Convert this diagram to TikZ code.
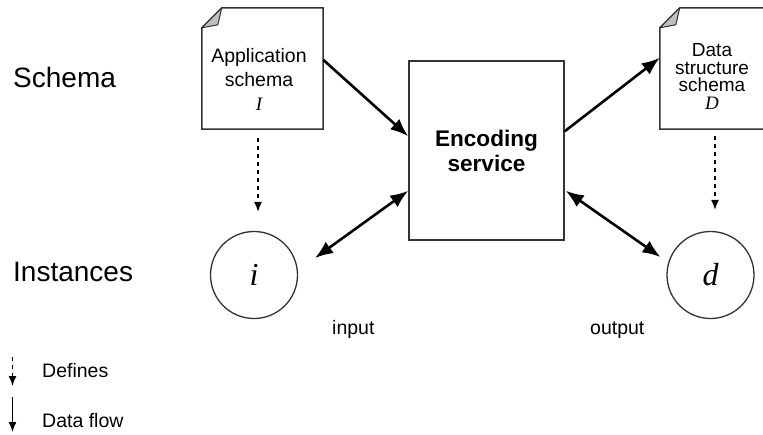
\documentclass[tikz,border=0pt]{standalone}
\usepackage{fontspec}
\setmainfont{Liberation Sans}
\newfontfamily\serifit{Liberation Serif}
\usetikzlibrary{arrows.meta,calc}
\begin{document}
\begin{tikzpicture}[x=1pt,y=-1pt,
  boxline/.style={draw=black!80, line width=1.5pt},
  flow/.style={line width=2.6pt, -{Latex[length=18pt,width=14pt]}},
  flowtwo/.style={line width=2.6pt, {Latex[length=18pt,width=14pt]}-{Latex[length=18pt,width=14pt]}},
  defarrow/.style={dash pattern=on 4pt off 4pt, line width=1.3pt, -{Latex[length=10pt,width=8pt]}},
  legflow/.style={line width=1.4pt, -{Latex[length=10pt,width=8pt]}},
  docholder/.style={minimum width=121pt, minimum height=121pt, inner sep=0pt},
  doctext/.style={align=center, inner sep=0pt},
  inst/.style={circle, draw=black!80, line width=1.3pt, minimum size=87pt, inner sep=0pt,
    font=\fontsize{32}{36}\selectfont\serifit\itshape},
  biglabel/.style={anchor=base west, inner sep=0pt, font=\fontsize{28}{32}\selectfont},
  smalllabel/.style={anchor=base west, inner sep=0pt, font=\fontsize{19.5}{22}\selectfont},
]
\useasboundingbox (0,0) rectangle (763,434);
\clip (0,0) rectangle (763,434);

% documents
\node[docholder] (docI) at (262.5,68.5) {};
\node[docholder] (docD) at (720.5,68.5) {};
\foreach \d in {docI,docD}{
  \draw[boxline, line join=miter] (\d.north east) -- (\d.south east) -- (\d.south west)
     -- ($(\d.north west)+(0,20)$) -- ($(\d.north west)+(20,0)$) -- cycle;
  \filldraw[fill=black!25, draw=black!80, line width=1pt, line join=round]
     ($(\d.north west)+(0,20)$) -- ($(\d.north west)+(20,0)$) -- ($(\d.north west)+(16,17)$) -- cycle;
}
\node[doctext, font=\fontsize{19.5}{24}\selectfont] (docIt) at (259,79)
  {Application\\schema\\{\fontsize{19}{24}\selectfont\serifit\itshape I}};
\node[doctext, font=\fontsize{19}{17.5}\selectfont] (docDt) at (712,76.5)
  {Data\\structure\\schema\\{\serifit\itshape D}};

% encoding service
\node[boxline, minimum width=155pt, minimum height=179pt, inner sep=0pt, align=center,
  font=\fontsize{22.6}{25}\selectfont\bfseries] (enc) at (486.5,150.5) {Encoding\\service};

% instances
\node[inst] (ci) at (254,275) {i};
\node[inst] (cd) at (710.5,275) {d};

% labels
\node[biglabel] (lschema) at (13,87) {Schema};
\node[biglabel] (linst) at (13,281) {Instances};
\node[smalllabel] (linput) at (332,334) {input};
\node[smalllabel] (loutput) at (590,334) {output};

% connectors
\draw[flow] ($(docI.north east)+(0,52)$) -- ($(enc.north west)+(0,76)$);
\draw[flow] ($(enc.north east)+(0,71)$) -- ($(docD.north west)+(0,50)$);
\draw[flowtwo] ($(ci.center)+(61,-17)$) -- ($(enc.south west)+(0,-50)$);
\draw[flowtwo] ($(enc.south east)+(1,-50)$) -- ($(cd.center)+(-50,-18)$);
\draw[defarrow] ($(docI.south)+(-4.5,9)$) -- ($(ci.north)+(4,-19)$);
\draw[defarrow] ($(docD.south)+(-5.5,7)$) -- ($(cd.north)+(4.5,-21)$);

% legend
\coordinate (la) at (12.5,357);
\coordinate (lb) at (12.5,386);
\coordinate (lc) at (12.5,397);
\coordinate (ld) at (12.5,432);
\draw[defarrow] (la) -- (lb);
\draw[legflow] (lc) -- (ld);
\node[smalllabel] (ldef) at (42,377) {Defines};
\node[smalllabel] (lflow) at (42,427) {Data flow};
\end{tikzpicture}
\end{document}
